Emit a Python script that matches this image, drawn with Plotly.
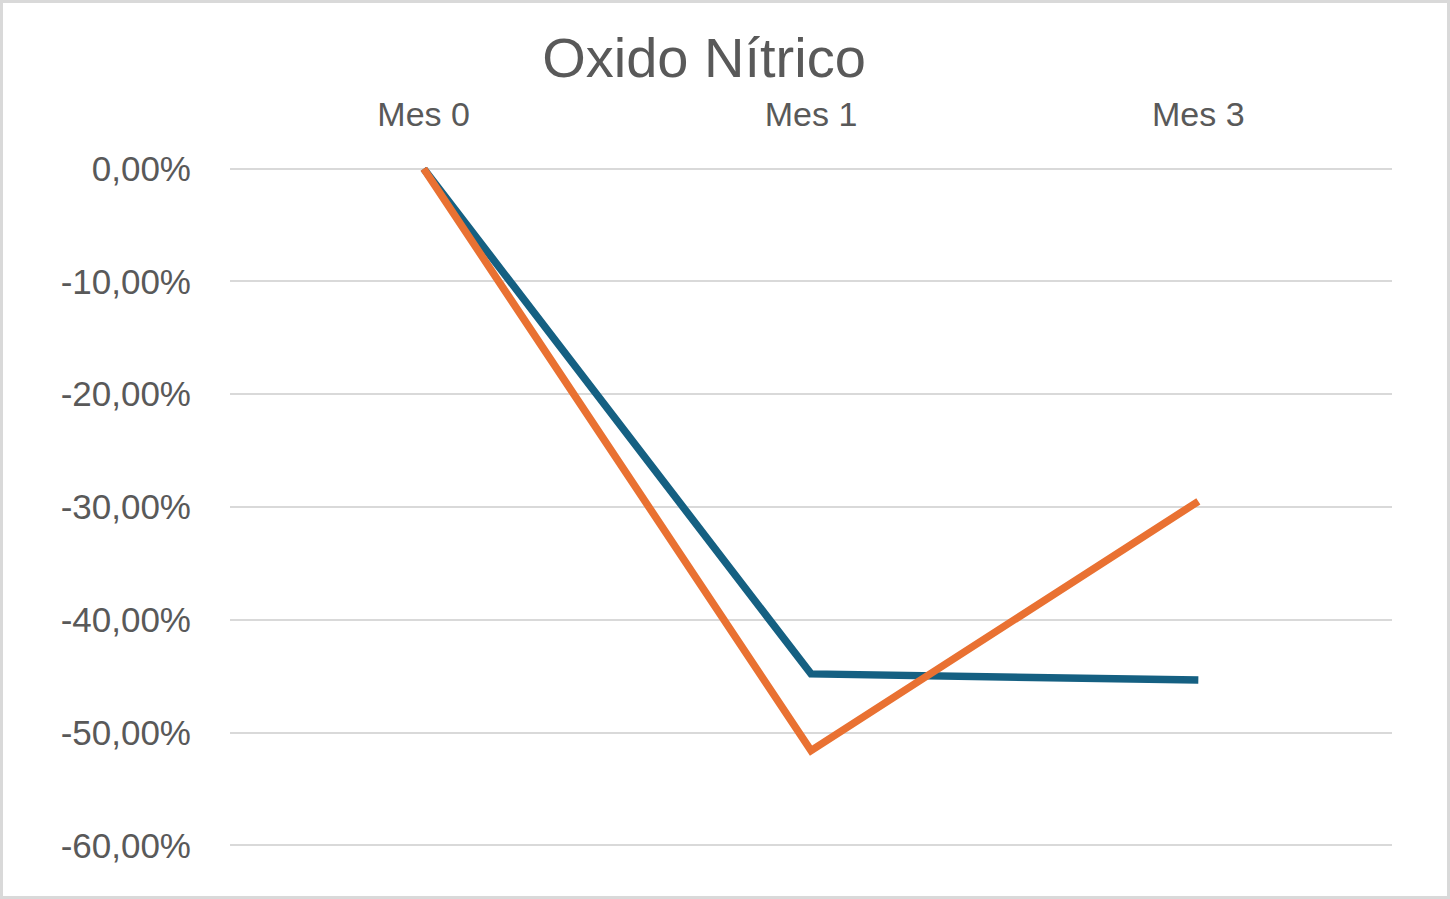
import plotly.graph_objects as go

categories = ["Mes 0", "Mes 1", "Mes 3"]
serie_azul = [0.0, -0.448, -0.4535]
serie_naranja = [0.0, -0.516, -0.295]
y_ticks = [0.0, -0.1, -0.2, -0.3, -0.4, -0.5, -0.6]
y_tick_labels = ["0,00%", "-10,00%", "-20,00%", "-30,00%", "-40,00%", "-50,00%", "-60,00%"]

W, H = 1450, 899
ml, mr, mt, mb = 230, 58, 167, 52
pw, ph = W - ml - mr, H - mt - mb

fig = go.Figure()
fig.add_trace(go.Scatter(x=categories, y=serie_azul, mode="lines",
                         line=dict(color="#156082", width=7.5), showlegend=False))
fig.add_trace(go.Scatter(x=categories, y=serie_naranja, mode="lines",
                         line=dict(color="#E97132", width=7.5), showlegend=False))

font_family = "Liberation Sans, Arial, sans-serif"
fig.update_layout(
    width=W, height=H,
    margin=dict(l=ml, r=mr, t=mt, b=mb),
    paper_bgcolor="white", plot_bgcolor="white",
    title=dict(text="Oxido Nítrico", x=(W / 2 - 21) / W, xanchor="center",
               y=1 - 57 / H, yanchor="middle",
               font=dict(family=font_family, size=56, color="#595959")),
    xaxis=dict(side="top", type="category", range=[-0.5, 2.5],
               showgrid=False, showline=False, zeroline=False,
               ticks="", ticklabelstandoff=33,
               tickfont=dict(family=font_family, size=34, color="#595959")),
    yaxis=dict(range=[-0.6015, 0.0015], tickvals=y_ticks, ticktext=y_tick_labels,
               showgrid=True, gridcolor="#d9d9d9", gridwidth=2,
               zeroline=False, showline=False, ticks="",
               ticklabelstandoff=38,
               tickfont=dict(family=font_family, size=35, color="#595959")),
    shapes=[dict(type="rect", xref="paper", yref="paper",
                 x0=(-ml + 1.5) / pw, x1=1 + (mr - 1.5) / pw,
                 y0=(-mb + 1.5) / ph, y1=1 + (mt - 1.5) / ph,
                 line=dict(color="#d9d9d9", width=3), layer="below")],
)
fig.write_html("out.html", config={"displayModeBar": False},
               post_script="document.body.style.margin='0';")
